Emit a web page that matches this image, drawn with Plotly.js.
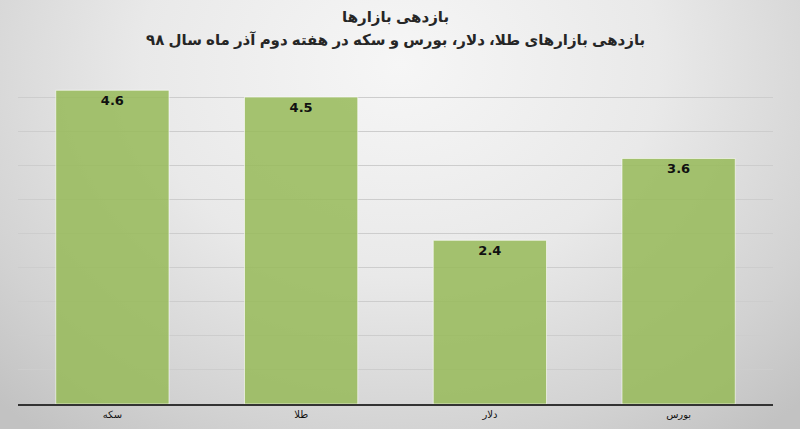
<!DOCTYPE html>
<html>
<head>
<meta charset="utf-8">
<script src="https://cdn.plot.ly/plotly-3.0.1.min.js"></script>
<style>
  html, body { margin: 0; padding: 0; }
  body {
    width: 800px; height: 429px; overflow: hidden;
    background: radial-gradient(ellipse 72% 110% at 50% 15%, #f6f6f6 0%, #e9e9e9 45%, #d2d2d2 80%, #c2c2c2 100%);
  }
  #chart { width: 800px; height: 429px; }
</style>
</head>
<body>
<div id="chart"></div>
<script>
// Weekly market returns (percent)
const categories = ['سکه', 'طلا', 'دلار', 'بورس'];
const returns = [4.6, 4.5, 2.4, 3.6];

const titleMain = 'بازدهی بازارها';
const titleSub = 'بازدهی بازارهای طلا، دلار، بورس و سکه در هفته دوم آذر ماه سال ۹۸';
const fontFamily = 'Liberation Sans, Arial, DejaVu Sans, sans-serif';

const trace = {
  type: 'bar',
  x: categories,
  y: returns,
  marker: {
    color: 'rgba(150,186,88,0.85)',
    line: { color: 'rgba(255,255,255,0.6)', width: 1 }
  },
  text: returns.map(v => v.toFixed(1)),
  texttemplate: '<b>%{text}</b>',
  textposition: 'inside',
  insidetextanchor: 'end',
  textangle: 0,
  textfont: { family: 'DejaVu Sans, sans-serif', size: 13, color: '#111111' },
  hoverinfo: 'x+y'
};

const titleFont = { family: fontFamily, size: 15, color: '#262626', weight: 'bold' };

const layout = {
  width: 800,
  height: 429,
  margin: { l: 18, r: 27, t: 63, b: 25 },
  paper_bgcolor: 'rgba(0,0,0,0)',
  plot_bgcolor: 'rgba(0,0,0,0)',
  bargap: 0.4,
  showlegend: false,
  annotations: [
    {
      text: titleMain, font: titleFont,
      xref: 'paper', yref: 'paper', x: 0.5, y: 1.135,
      xanchor: 'center', yanchor: 'middle', showarrow: false
    },
    {
      text: titleSub, font: titleFont,
      xref: 'paper', yref: 'paper', x: 0.5, y: 1.067,
      xanchor: 'center', yanchor: 'middle', showarrow: false
    }
  ],
  xaxis: {
    type: 'category',
    showgrid: false,
    showline: true,
    linecolor: '#333333',
    linewidth: 1.5,
    ticks: '',
    tickfont: { family: fontFamily, size: 10, color: '#111111' },
    fixedrange: true
  },
  yaxis: {
    range: [0, 5],
    dtick: 0.5,
    showgrid: true,
    gridcolor: '#cdcdcd',
    gridwidth: 1,
    showticklabels: false,
    zeroline: false,
    ticks: '',
    fixedrange: true
  }
};

Plotly.newPlot('chart', [trace], layout, { displayModeBar: false, staticPlot: true });
</script>
</body>
</html>
